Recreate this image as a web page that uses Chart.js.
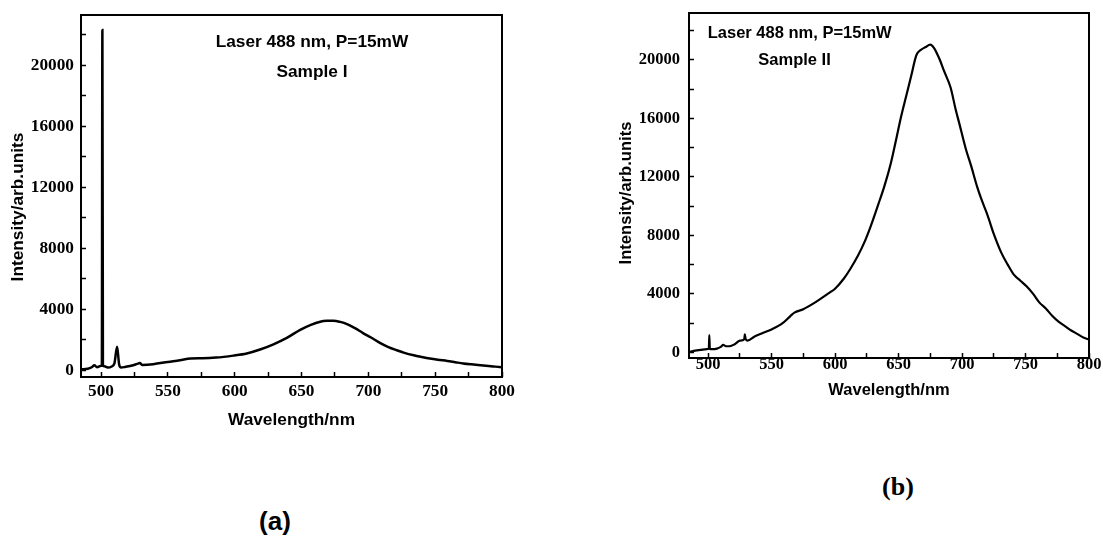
<!DOCTYPE html>
<html>
<head>
<meta charset="utf-8">
<script src="https://cdn.jsdelivr.net/npm/chart.js@4.4.1/dist/chart.umd.min.js"></script>
<style>
  body { margin: 0; background: #fff; width: 1103px; height: 539px; position: relative; overflow: hidden; }
  canvas { position: absolute; top: 0; }
  #chartA { left: 0; }
  #chartB { left: 580px; }
  .panel { position: absolute; font-weight: bold; font-size: 26px; line-height: 1; transform: translate(-50%, -50%); color: #000; }
</style>
</head>
<body>
<canvas id="chartA" width="520" height="440"></canvas>
<canvas id="chartB" width="523" height="420"></canvas>
<div class="panel" style="left:275px; top:521px; font-family:'Liberation Sans', Arial, sans-serif">(a)</div>
<div class="panel" style="left:898px; top:487px; font-family:'Liberation Serif', 'Times New Roman', serif">(b)</div>
<script>
// Sample I spectrum (nm, arb. units)
const wavelengthA = [485, 490, 493, 495, 497, 499.5, 500.6, 501, 501.4, 502.5, 505, 508, 510, 512, 513.5, 515,
  518, 524, 527, 529, 531, 539, 550, 559, 567, 576, 586, 599, 609, 619, 629, 639, 649, 657, 664, 669, 674,
  679, 684, 690, 696, 702, 709, 715, 721, 727, 734, 740, 746, 752, 759, 765, 771, 777, 784, 790, 795, 800];
const intensityA = [60, 100, 200, 330, 200, 280, 300, 22300, 300, 260, 180, 250, 450, 1550, 400, 180,
  220, 330, 420, 470, 350, 400, 550, 660, 780, 790, 830, 960, 1100, 1360, 1700, 2120, 2650, 2980, 3180, 3240, 3250,
  3170, 3030, 2760, 2440, 2150, 1780, 1520, 1320, 1140, 980, 870, 770, 690, 610, 530, 450, 390, 330, 280, 240, 200];

// Sample II spectrum
const wavelengthB = [485, 490, 494, 499, 500.6, 501, 501.4, 503, 507, 510, 512, 514, 517, 521, 525, 528.5, 529, 529.5,
  531, 537, 543, 550, 559, 565, 568, 575, 585, 596, 600, 607, 612, 618, 623, 628, 634, 639, 644, 648, 652, 656,
  660, 664, 668, 671, 675, 678, 682, 686, 691, 695, 698, 703, 707, 712, 716, 720, 725, 731, 736, 741, 746, 751,
  756, 761, 766, 771, 776, 781, 786, 791, 796, 800];
const intensityB = [30, 120, 170, 230, 250, 1180, 240, 220, 260, 380, 520, 420, 420, 560, 800, 900, 1230, 950,
  800, 1100, 1320, 1570, 2020, 2500, 2720, 2950, 3450, 4100, 4350, 5050, 5700, 6600, 7500, 8600, 10100, 11400, 12950, 14500, 16100, 17500,
  18900, 20300, 20700, 20850, 21030, 20800, 20100, 19200, 18100, 16600, 15600, 13900, 12800, 11300, 10300, 9400, 8100, 6800, 6000, 5300, 4900, 4500,
  4000, 3400, 3000, 2500, 2100, 1800, 1500, 1250, 1000, 880];

// tick positions (major ones get labels)
const xTicks = [500, 525, 550, 575, 600, 625, 650, 675, 700, 725, 750, 775, 800];
const xLabels = [500, 550, 600, 650, 700, 750, 800];
const yTicks = [0, 2000, 4000, 6000, 8000, 10000, 12000, 14000, 16000, 18000, 20000, 22000];
const yLabels = [0, 4000, 8000, 12000, 16000, 20000];

const annotationLine1 = 'Laser 488 nm, P=15mW';
const sampleNames = ['Sample I', 'Sample II'];

const sans = "'Liberation Sans', Arial, sans-serif";
const serif = "'Liberation Serif', 'Times New Roman', serif";

const frameAndText = {
  id: 'frameAndText',
  afterDraw(chart, args, opts) {
    const { ctx, chartArea: a } = chart;
    ctx.save();
    ctx.strokeStyle = '#000';
    ctx.lineWidth = 2;
    ctx.strokeRect(a.left, a.top, a.right - a.left, a.bottom - a.top);
    ctx.fillStyle = '#000';
    ctx.textAlign = 'center';
    ctx.textBaseline = 'middle';
    opts.texts.forEach(t => {
      ctx.save();
      ctx.font = t.font;
      ctx.translate(t.x, t.y);
      if (t.rotate) ctx.rotate(-Math.PI / 2);
      ctx.fillText(t.text, 0, 0);
      ctx.restore();
    });
    ctx.restore();
  }
};

function makeChart(id, xs, ys, s) {
  const ctx = document.getElementById(id).getContext('2d');
  return new Chart(ctx, {
    type: 'line',
    data: {
      datasets: [{
        data: xs.map((x, i) => ({ x: x, y: ys[i] })),
        borderColor: '#000',
        borderWidth: s.lineWidth,
        pointRadius: 0,
        cubicInterpolationMode: 'monotone',
        fill: false
      }]
    },
    options: {
      responsive: false,
      animation: false,
      layout: { padding: { top: s.top, right: s.right, left: 0, bottom: 0 } },
      plugins: {
        legend: { display: false },
        tooltip: { enabled: false },
        frameAndText: { texts: s.texts }
      },
      scales: {
        x: {
          type: 'linear',
          min: 485,
          max: 800,
          afterBuildTicks: scale => { scale.ticks = xTicks.map(v => ({ value: v })); },
          afterFit: scale => {
            scale.height = s.xHeight;
            scale.paddingLeft = 0;
            scale.paddingRight = 0;
          },
          border: { display: false },
          grid: { drawOnChartArea: false, tickLength: -5, tickWidth: 1.5, tickColor: '#000' },
          ticks: {
            autoSkip: false,
            maxRotation: 0,
            padding: s.xPad,
            color: '#000',
            font: { family: serif, weight: 'bold', size: s.tickSize },
            callback: v => (xLabels.includes(v) ? String(v) : '')
          },
          title: {
            display: true,
            text: 'Wavelength/nm',
            color: '#000',
            padding: { top: 0, bottom: s.titlePad },
            font: { family: sans, weight: 'bold', size: s.textSize }
          }
        },
        y: {
          min: s.yMin,
          max: s.yMax,
          afterBuildTicks: scale => { scale.ticks = yTicks.map(v => ({ value: v })); },
          afterFit: scale => {
            scale.width = s.yWidth;
            scale.paddingTop = 0;
            scale.paddingBottom = 0;
          },
          border: { display: false },
          grid: { drawOnChartArea: false, tickLength: -5, tickWidth: 1.5, tickColor: '#000' },
          ticks: {
            autoSkip: false,
            padding: s.yPad,
            color: '#000',
            font: { family: serif, weight: 'bold', size: s.tickSize },
            callback: v => (yLabels.includes(v) ? String(v) : '')
          }
        }
      }
    },
    plugins: [frameAndText]
  });
}

makeChart('chartA', wavelengthA, intensityA, {
  lineWidth: 2.5, top: 15, right: 18, xHeight: 63, yWidth: 81,
  yMin: -440, yMax: 23280, xPad: 9.6, yPad: 12, titlePad: 9,
  tickSize: 17.3, textSize: 17.3,
  texts: [
    { text: 'Intensity/arb.units', x: 18.5, y: 207, rotate: true, font: 'bold 17.3px ' + sans },
    { text: annotationLine1, x: 312, y: 42, font: 'bold 17.3px ' + sans },
    { text: sampleNames[0], x: 312, y: 72, font: 'bold 17.3px ' + sans }
  ]
});

makeChart('chartB', wavelengthB, intensityB, {
  lineWidth: 2.2, top: 13, right: 14, xHeight: 62, yWidth: 109,
  yMin: -383, yMax: 23195, xPad: 1.4, yPad: 14, titlePad: 20,
  tickSize: 16.5, textSize: 16.5,
  texts: [
    { text: 'Intensity/arb.units', x: 46, y: 193, rotate: true, font: 'bold 16.6px ' + sans },
    { text: annotationLine1, x: 219.7, y: 33.5, font: 'bold 16.5px ' + sans },
    { text: sampleNames[1], x: 214.5, y: 60, font: 'bold 16.5px ' + sans }
  ]
});
</script>
</body>
</html>
